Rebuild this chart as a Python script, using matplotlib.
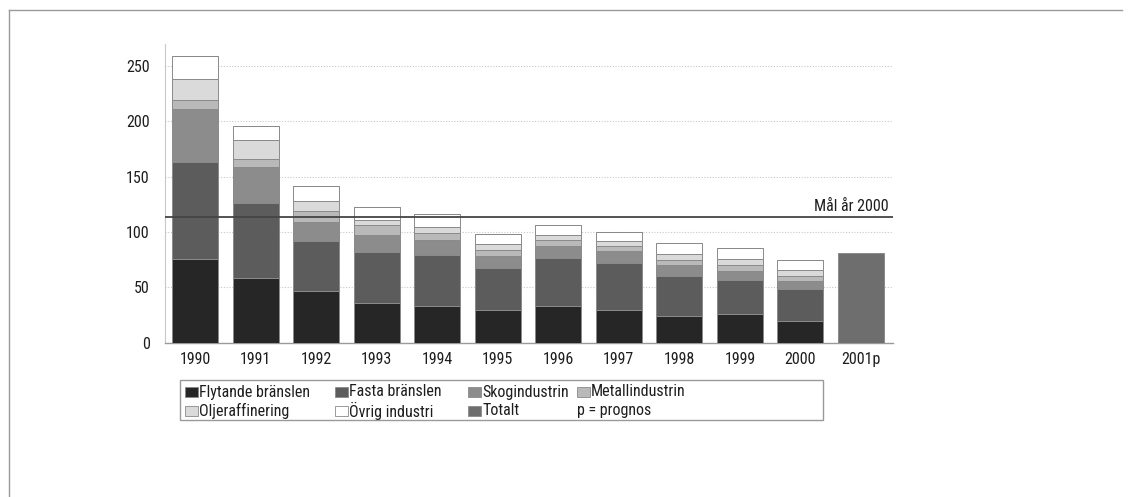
import matplotlib
matplotlib.use("Agg")
import matplotlib.pyplot as plt
from matplotlib.patches import Rectangle
from matplotlib.lines import Line2D
import numpy as np

plt.rcParams['font.family'] = ['Roboto Condensed', 'DejaVu Sans']

years = ["1990", "1991", "1992", "1993", "1994", "1995", "1996", "1997",
         "1998", "1999", "2000", "2001p"]
flytande = [76, 58.5, 47, 36, 33, 30, 33, 30, 24, 26, 20, 0]
fasta = [87.5, 67.5, 45, 46, 46, 37.5, 44, 42, 36, 31, 28.5, 0]
skog = [48, 33, 17, 15, 14, 10.5, 10.5, 10.5, 10, 7.5, 7, 0]
metall = [7.5, 7, 10, 9, 6.5, 5.5, 5.5, 4.5, 5, 5.5, 5, 0]
olje = [19.5, 17, 9, 5, 5.5, 5.5, 4.5, 4.5, 5.5, 5.5, 5, 0]
ovrig = [20.5, 13, 14, 12, 11.5, 9.5, 8.5, 9, 10, 10, 9, 0]
totalt = [0, 0, 0, 0, 0, 0, 0, 0, 0, 0, 0, 81]
target = 113.5
target_label = "Mål år 2000"

series_names = ["Flytande bränslen", "Fasta bränslen", "Skogindustrin",
                "Metallindustrin", "Oljeraffinering", "Övrig industri", "Totalt"]
series_vals = [flytande, fasta, skog, metall, olje, ovrig, totalt]
colors = ["#262626", "#5c5c5c", "#8c8c8c", "#b9b9b9", "#dadada", "#ffffff", "#6e6e6e"]
note = "p = prognos"

W, H = 1132, 497
fig = plt.figure(figsize=(W / 100, H / 100), dpi=100)

def fx(px):
    return px / W

def fy(py):
    return 1 - py / H

TXT = "#1e1e1e"

# page frame (top and left edges only)
fig.lines.append(Line2D([fx(9), fx(1122)], [fy(10), fy(10)], transform=fig.transFigure,
                        color="#9a9a9a", linewidth=1.0))
fig.lines.append(Line2D([fx(9), fx(9)], [fy(10), fy(497)], transform=fig.transFigure,
                        color="#9a9a9a", linewidth=1.0))

ax = fig.add_axes([fx(165), fy(342.7), fx(893) - fx(165), fy(44) - fy(342.7)])
x = np.arange(len(years))
bottom = np.zeros(len(years))
for name, vals, c in zip(series_names, series_vals, colors):
    v = np.array(vals, dtype=float)
    ax.bar(x, v, bottom=bottom, width=0.76, color=c, edgecolor="#8a8a8a",
           linewidth=0.7, zorder=3)
    bottom += v

ax.set_xlim(-0.5, 11.53)
ax.set_ylim(0, 270)
ax.set_yticks([0, 50, 100, 150, 200, 250])
ax.set_xticks(x)
ax.set_xticklabels(years)
for yv in [50, 100, 150, 200, 250]:
    ax.axhline(yv, color="#c8c8c8", linewidth=0.8, linestyle=(0, (1, 1.5)), zorder=1)
ax.axhline(target, color="#444444", linewidth=1.3, zorder=4)
ax.text(11.45, target + 3, target_label, ha="right", va="bottom", fontsize=11.5,
        color=TXT)

for s in ["top", "right"]:
    ax.spines[s].set_visible(False)
ax.spines["left"].set_color("#c8c8c8")
ax.spines["left"].set_linewidth(0.8)
ax.spines["bottom"].set_color("#9a9a9a")
ax.spines["bottom"].set_linewidth(1.0)
ax.tick_params(axis="both", length=0, labelsize=11.5, colors=TXT)
ax.tick_params(axis="y", pad=11)
ax.tick_params(axis="x", pad=7)

# legend (manual)
box = Rectangle((fx(180), fy(419.5)), fx(823) - fx(180), fy(380) - fy(419.5),
                transform=fig.transFigure, fill=False, edgecolor="#9a9a9a",
                linewidth=1.0)
fig.patches.append(box)
col_x = [185, 335, 468, 577]
row_y = [392, 410.5]
for idx, (col, row) in enumerate([(0, 0), (1, 0), (2, 0), (3, 0),
                                  (0, 1), (1, 1), (2, 1)]):
    px = col_x[col]
    py = row_y[row]
    r = Rectangle((fx(px), fy(py + 5)), fx(13), fy(0) - fy(10),
                  transform=fig.transFigure, facecolor=colors[idx],
                  edgecolor="#8a8a8a", linewidth=0.6)
    fig.patches.append(r)
    fig.text(fx(px + 14), fy(py), series_names[idx], ha="left", va="center",
             fontsize=11.5, color=TXT)
fig.text(fx(col_x[3]), fy(row_y[1]), note, ha="left", va="center",
         fontsize=11.5, color=TXT)

fig.savefig("out.png", dpi=100)
